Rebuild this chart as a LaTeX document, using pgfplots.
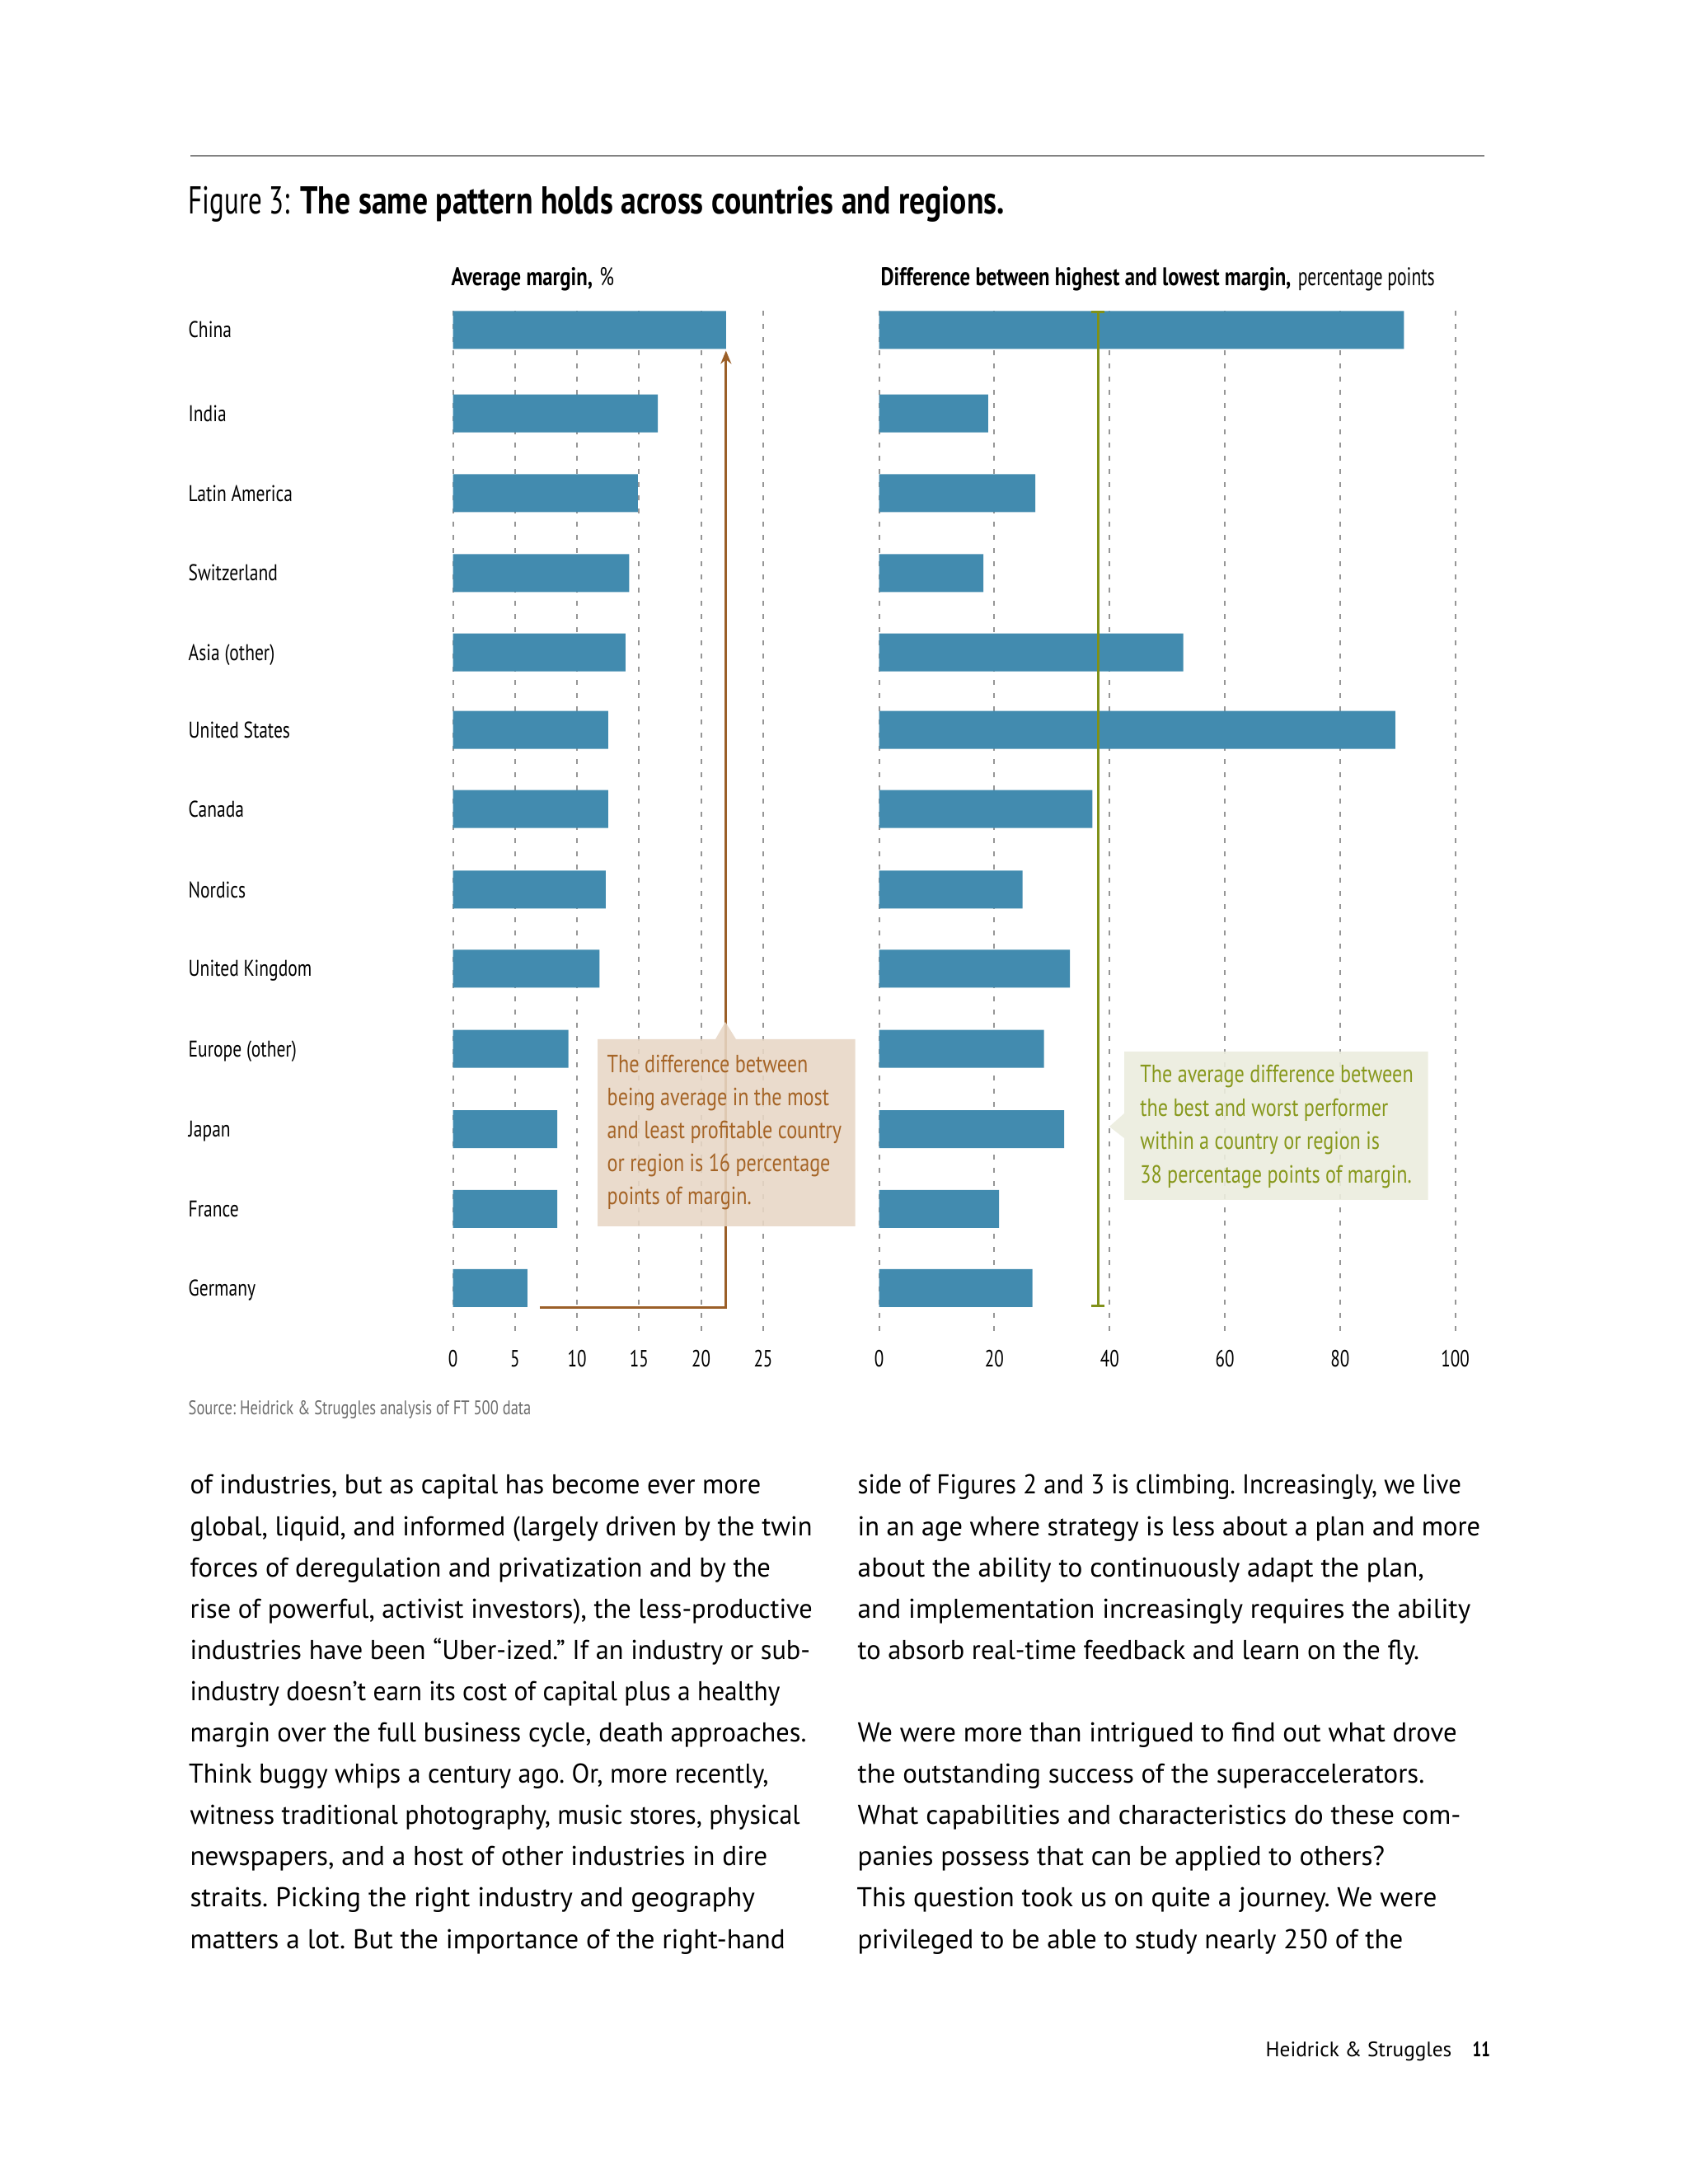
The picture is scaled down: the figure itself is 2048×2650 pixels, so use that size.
\documentclass[border=0pt]{standalone}
\usepackage{fontspec}
\usepackage{graphicx}
\usepackage{pgfplots}
\usepackage{pgfplotstable}
\pgfplotsset{compat=1.18}
\usetikzlibrary{arrows.meta}
\setmainfont{PT Sans}
\newfontfamily\cA[FakeStretch=0.70]{PT Sans}
\newfontfamily\cB[FakeStretch=0.74]{PT Sans}
\newfontfamily\cC[FakeStretch=0.78]{PT Sans}
\newfontfamily\cD[FakeStretch=0.80]{PT Sans}
\newfontfamily\cE[FakeStretch=0.775]{PT Sans}
\newfontfamily\bodyf[FakeStretch=0.98]{PT Sans}
\newcommand\fs[1]{\fontsize{#1}{#1}\selectfont}
\newcommand\sx[2]{\scalebox{#1}[1]{#2}}
\definecolor{barblue}{RGB}{66,139,175}
\definecolor{brtext}{RGB}{165,100,38}
\definecolor{brline}{RGB}{155,95,40}
\definecolor{brfill}{RGB}{232,215,197}
\definecolor{gntext}{RGB}{135,152,28}
\definecolor{gnline}{RGB}{128,145,25}
\definecolor{gnfill}{RGB}{236,237,222}
\definecolor{gridgray}{RGB}{150,150,150}
\definecolor{rulegray}{RGB}{130,130,130}
\definecolor{srcgray}{RGB}{110,110,110}

% pos = vertical slot of each category (0 = China at top)
\pgfplotstableread{
pos avg diff
0 22.0 91.1
1.045 16.5 18.9
2.045 14.9 27.1
3.045 14.2 18.1
4.04 13.9 52.8
5.01 12.5 89.6
6.0 12.5 37.0
7.01 12.3 24.9
8.0 11.8 33.1
9.005 9.3 28.6
10.01 8.4 32.1
11.01 8.4 20.8
12 6.0 26.6
}\datatable

\pgfplotsset{
  mybars/.style={
    scale only axis,
    height=124.1mm,
    ymin=-0.24, ymax=12.57,
    y dir=reverse,
    axis line style={draw=none},
    major tick length=0,
    xmajorgrids,
    major grid style={gridgray, line width=0.2mm, dash pattern=on 0.6mm off 1mm},
    clip=false,
    /pgf/number format/assume math mode=true,
    xticklabel style={font=\cB\fs{8.1}, inner sep=0pt, anchor=north, yshift=-2mm},
  }
}

\begin{document}
\frenchspacing
\begin{tikzpicture}[x=0.1mm,y=0.1mm]
\useasboundingbox (0,0) rectangle (2048,2650);
\fill[white] (0,0) rectangle (2048,2650);

% top rule
\draw[line width=0.25mm, rulegray] (231,2461) -- (1801,2461);

% title
\node[anchor=base west, inner sep=0pt, font=\fs{13.4}] at (228,2390)
  {{\cA Figure 3:} {\cD\bfseries The same pattern holds across countries and regions.}};

% panel headers
\node[anchor=base west, inner sep=0pt, font=\fs{8.8}] at (547,2303.3)
  {{\cD\bfseries Average margin,} {\cB\%}};
\node[anchor=base west, inner sep=0pt, font=\fs{8.8}] at (1068,2303.3)
  {{\cD\bfseries Difference between highest and lowest margin,} {\cA percentage points}};

% left axis
\begin{axis}[mybars,
  at={(54.96mm,103.2mm)}, anchor=south west,
  width=37.64mm,
  xmin=0, xmax=25,
  xtick={0,5,10,15,20,25},
  ytick={0,1.045,2.045,3.045,4.04,5.01,6,7.01,8,9.005,10.01,11.01,12},
  yticklabels={China, India, Latin America, Switzerland, Asia (other), United States, Canada, Nordics, United Kingdom, Europe (other), Japan, France, Germany},
  yticklabel style={font=\cC\fs{7.85}, inner sep=0pt, anchor=base west, xshift=-32.16mm, yshift=-0.97mm},
]
\addplot[xbar, bar width=4.6mm, fill=barblue, draw=none] table[x=avg, y=pos] {\datatable};
\draw[brline, line width=0.3mm, -{Stealth[length=1.6mm,width=1.3mm]}]
  (axis cs:7,12.24) -- (axis cs:22,12.24) -- (axis cs:22,0.26);
\end{axis}

% right axis
\begin{axis}[mybars,
  at={(106.67mm,103.2mm)}, anchor=south west,
  width=69.89mm,
  xmin=0, xmax=100,
  xtick={0,20,40,60,80,100},
  ytick=\empty,
]
\addplot[xbar, bar width=4.6mm, fill=barblue, draw=none] table[x=diff, y=pos] {\datatable};
\draw[gnline, line width=0.3mm, {Bar[width=1.6mm]}-{Bar[width=1.6mm]}]
  (axis cs:38,-0.24) -- (axis cs:38,12.24);
\end{axis}

% left callout
\fill[brfill, fill opacity=0.88] (725,1162) -- (1037.7,1162) -- (1037.7,1389) -- (893,1389) -- (880,1410) -- (868,1389) -- (725,1389) -- cycle;
\begin{scope}[every node/.style={anchor=base west, inner sep=0pt, font=\cD\fs{8.6}, text=brtext}]
\node at (736,1348.3) {The difference between};
\node at (736,1308.3) {being average in the most};
\node at (736,1268.3) {and least profitable country};
\node at (736,1228.3) {or region is 16 percentage};
\node at (736,1188.3) {points of margin.};
\end{scope}

% right callout
\fill[gnfill, fill opacity=0.9] (1364,1194) -- (1732.5,1194) -- (1732.5,1374) -- (1364,1374) -- (1364,1299) -- (1346,1283) -- (1364,1269) -- cycle;
\begin{scope}[every node/.style={anchor=base west, inner sep=0pt, font=\cD\fs{8.6}, text=gntext}]
\node at (1382.7,1336) {The average difference between};
\node at (1382.7,1295.5) {the best and worst performer};
\node at (1382.7,1255) {within a country or region is};
\node at (1382.7,1214.3) {38 percentage points of margin.};
\end{scope}

% source
\node[anchor=base west, inner sep=0pt, font=\cE\fs{6.8}, text=srcgray] at (228,933)
  {Source: Heidrick \& Struggles analysis of FT 500 data};

% body text, left column
\begin{scope}[every node/.style={anchor=base west, inner sep=0pt, font=\bodyf\fs{9.4}}]
\node at (229.8,837.0) {of industries, but as capital has become ever more};
\node at (229.8,786.9) {global, liquid, and informed (largely driven by the twin};
\node at (229.8,736.8) {\sx{1.007}{forces of deregulation and privatization and by the}};
\node at (229.8,686.7) {rise of powerful, activist investors), the less-productive};
\node at (229.8,636.6) {industries have been “Uber-ized.” If an industry or sub-};
\node at (229.8,586.5) {\sx{0.970}{industry doesn’t earn its cost of capital plus a healthy}};
\node at (229.8,536.4) {margin over the full business cycle, death approaches.};
\node at (228.5,486.3) {\sx{0.985}{Think buggy whips a century ago. Or, more recently,}};
\node at (229.8,436.2) {\sx{0.979}{witness traditional photography, music stores, physical}};
\node at (229.8,386.1) {\sx{1.026}{newspapers, and a host of other industries in dire}};
\node at (229.8,336.0) {\sx{1.032}{straits. Picking the right industry and geography}};
\node at (229.8,285.9) {\sx{1.028}{matters a lot. But the importance of the right-hand}};
% right column
\node at (1040,837.0) {\sx{0.952}{side of Figures 2 and 3 is climbing. Increasingly, we live}};
\node at (1040,786.9) {in an age where strategy is less about a plan and more};
\node at (1040,736.8) {\sx{1.030}{about the ability to continuously adapt the plan,}};
\node at (1040,686.7) {\sx{1.026}{and implementation increasingly requires the ability}};
\node at (1040,636.6) {to absorb real-time feedback and learn on the fly.};
\node at (1040,536.4) {\sx{1.012}{We were more than intrigued to find out what drove}};
\node at (1040,486.3) {\sx{1.015}{the outstanding success of the superaccelerators.}};
\node at (1040,436.2) {\sx{1.030}{What capabilities and characteristics do these com-}};
\node at (1040,386.1) {\sx{1.020}{panies possess that can be applied to others?}};
\node at (1039,336.0) {\sx{1.026}{This question took us on quite a journey. We were}};
\node at (1040,285.9) {\sx{1.016}{privileged to be able to study nearly 250 of the}};
\end{scope}

% footer
\node[anchor=base west, inner sep=0pt, font=\fs{7.2}] at (1535,154) {Heidrick \& Struggles};
\node[anchor=base west, inner sep=0pt, font=\cB\bfseries\fs{7.2}] at (1786,154) {11};

\end{tikzpicture}
\end{document}
